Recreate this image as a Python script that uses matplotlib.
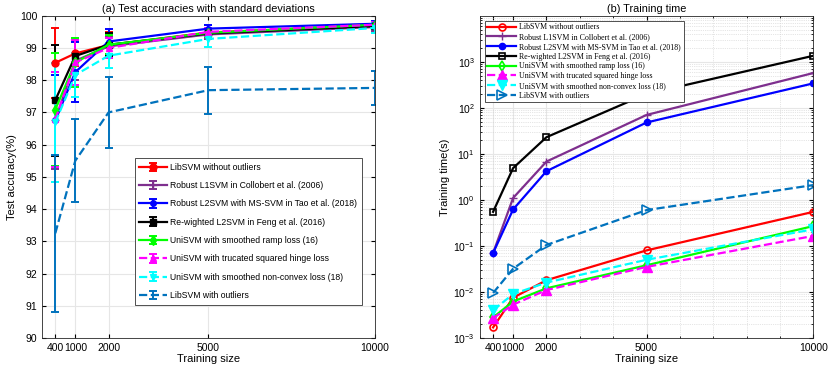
import matplotlib
matplotlib.use("Agg")
import matplotlib.pyplot as plt
from matplotlib.ticker import LogLocator, NullFormatter

plt.rcParams['font.family'] = ['Liberation Sans', 'DejaVu Sans']
plt.rcParams['mathtext.default'] = 'regular'

sizes = [400, 1000, 2000, 5000, 10000]
labels = ["LibSVM without outliers",
          "Robust L1SVM in Collobert et al. (2006)",
          "Robust L2SVM with MS-SVM in Tao et al. (2018)",
          "Re-wighted L2SVM in Feng et al. (2016)",
          "UniSVM with smoothed ramp loss (16)",
          "UniSVM with trucated squared hinge loss",
          "UniSVM with smoothed non-convex loss (18)",
          "LibSVM with outliers"]

acc_libsvm = [98.54, 98.83, 99.09, 99.48, 99.70]
acc_l1 = [96.75, 98.60, 99.05, 99.42, 99.65]
acc_l2 = [96.75, 98.25, 99.20, 99.60, 99.75]
acc_rew = [97.38, 98.75, 99.10, 99.45, 99.68]
acc_ramp = [97.09, 98.55, 99.10, 99.47, 99.72]
acc_trunc = [96.78, 98.55, 99.00, 99.50, 99.72]
acc_nonconv = [96.69, 98.16, 98.76, 99.28, 99.62]
acc_out = [93.25, 95.50, 97.00, 97.69, 97.76]

std_libsvm = [1.08, 0.40, 0.40, 0.15, 0.10]
std_l1 = [1.50, 0.60, 0.30, 0.15, 0.12]
std_l2 = [1.40, 0.93, 0.40, 0.12, 0.10]
std_rew = [1.72, 0.50, 0.35, 0.12, 0.10]
std_ramp = [1.75, 0.75, 0.30, 0.12, 0.10]
std_trunc = [1.48, 0.70, 0.30, 0.12, 0.10]
std_nonconv = [1.85, 0.68, 0.38, 0.25, 0.15]
std_out = [2.43, 1.28, 1.10, 0.73, 0.53]

time_libsvm = [0.0017, 0.0075, 0.018, 0.08, 0.55]
time_l1 = [0.07, 1.1, 6.8, 70, 570]
time_l2 = [0.07, 0.62, 4.2, 48, 340]
time_rew = [0.55, 4.9, 23, 200, 1350]
time_ramp = [0.0028, 0.0062, 0.012, 0.038, 0.27]
time_trunc = [0.0027, 0.0053, 0.011, 0.035, 0.165]
time_nonconv = [0.0040, 0.0090, 0.016, 0.050, 0.23]
time_out = [0.0095, 0.032, 0.105, 0.60, 2.1]

accs = [acc_libsvm, acc_l1, acc_l2, acc_rew, acc_ramp, acc_trunc, acc_nonconv, acc_out]
stds = [std_libsvm, std_l1, std_l2, std_rew, std_ramp, std_trunc, std_nonconv, std_out]
times = [time_libsvm, time_l1, time_l2, time_rew, time_ramp, time_trunc, time_nonconv, time_out]

colors = ['#ff0000', '#7e2f8e', '#0000ff', '#000000', '#00ff00', '#ff00ff', '#00ffff', '#0072bd']
markers = ['o', '+', '.', 's', 'd', '^', 'v', '>']
lstyles = ['-', '-', '-', '-', '-', '--', '--', '--']
mfill_right = ['none', None, None, 'none', 'none', None, None, 'none']
msize_right = [5, 6, 9, 5, 5, 7, 7, 7]

fig = plt.figure(figsize=(8.3, 3.7), dpi=100)
ax1 = fig.add_axes([0.0506, 0.0865, 0.401, 0.871])
ax2 = fig.add_axes([0.578, 0.0865, 0.402, 0.871])

for a, s, c, m, ls, lab in zip(accs, stds, colors, markers, lstyles, labels):
    ms = 5
    if m == '+':
        ms = 6
    if m == '.':
        ms = 8
    if m == '>':
        m = ''
    ax1.errorbar(sizes, a, yerr=s, color=c, marker=m if m else None, ls=ls,
                 lw=1.6, ms=ms, capsize=3, capthick=1.4, elinewidth=1.4,
                 mfc=c, mec=c, label=lab)

ax1.set_xlim(0, 10000)
ax1.set_ylim(90, 100)
ax1.set_xticks(sizes)
ax1.set_yticks(range(90, 101))
ax1.grid(True, color='#e6e6e6', lw=0.8)
ax1.set_axisbelow(True)
ax1.tick_params(direction='in', labelsize=7.5, length=3, top=True, right=True)
ax1.set_xlabel('Training size', fontsize=8, labelpad=1)
ax1.set_ylabel('Test accuracy(%)', fontsize=8, labelpad=2)
ax1.set_title('(a) Test accuracies with standard deviations', fontsize=7.8, pad=3)
leg1 = ax1.legend(loc='lower left', bbox_to_anchor=(0.265, 0.09), fontsize=6.2,
                  handlelength=3.2, labelspacing=1.08, fancybox=False,
                  edgecolor='#333333', framealpha=1, borderpad=0.55, handletextpad=0.4)
leg1.get_frame().set_linewidth(0.6)

for t, c, m, ls, lab, mf, ms in zip(times, colors, markers, lstyles, labels, mfill_right, msize_right):
    kw = dict(color=c, marker=m, ls=ls, lw=1.6, ms=ms, mec=c, label=lab)
    if mf == 'none':
        kw['mfc'] = 'none'
        kw['mew'] = 1.2
    else:
        kw['mfc'] = c
    ax2.plot(sizes, t, **kw)

ax2.set_yscale('log')
ax2.set_xlim(0, 10000)
ax2.set_ylim(1e-3, 1e4)
ax2.set_xticks(sizes)
ax2.set_yticks([1e-3, 1e-2, 1e-1, 1e0, 1e1, 1e2, 1e3])
ax2.yaxis.set_minor_locator(LogLocator(base=10, subs=range(2, 10), numticks=20))
ax2.yaxis.set_minor_formatter(NullFormatter())
ax2.set_xticks([1000 * i for i in range(11)], minor=True)
ax2.grid(True, which='major', color='#e6e6e6', lw=0.8)
ax2.grid(True, which='minor', color='#cccccc', lw=0.5, ls=':')
ax2.set_axisbelow(True)
ax2.tick_params(which='both', direction='in', labelsize=7.5, top=True, right=True)
ax2.tick_params(which='major', length=3)
ax2.tick_params(which='minor', length=1.5)
ax2.set_xlabel('Training size', fontsize=8, labelpad=1)
ax2.set_ylabel('Training time(s)', fontsize=8, labelpad=2)
ax2.set_title('(b) Training time', fontsize=7.8, pad=3)
leg2 = ax2.legend(loc='upper left', bbox_to_anchor=(0.003, 0.997),
                  prop={'family': ['Liberation Serif', 'DejaVu Serif'], 'size': 5.7},
                  handlelength=3.6, labelspacing=0.22, fancybox=False,
                  edgecolor='#333333', framealpha=1, borderpad=0.35, handletextpad=0.4)
leg2.get_frame().set_linewidth(0.6)

for ax in (ax1, ax2):
    for sp in ax.spines.values():
        sp.set_linewidth(0.6)
        sp.set_color('#262626')

fig.savefig('out.png', dpi=100)
